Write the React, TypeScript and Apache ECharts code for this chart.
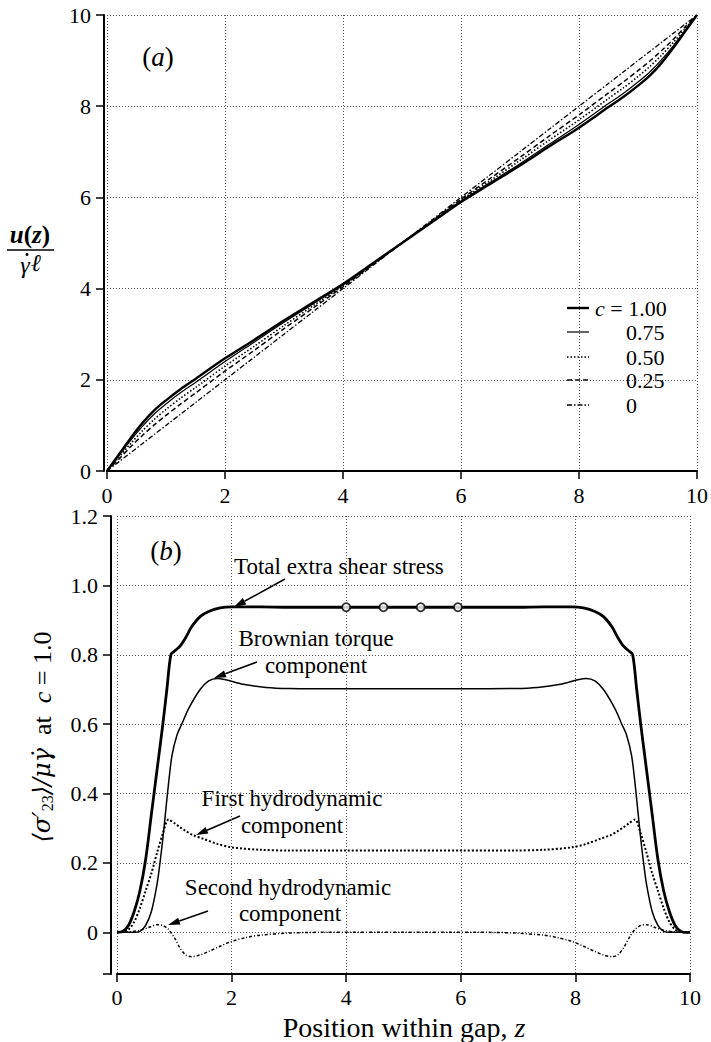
import React, { useEffect, useRef } from "react";
import * as echarts from "echarts";

// ---------- Panel (a): velocity profiles ----------
const zTop = [0, 0.2, 0.4, 0.6, 0.8, 1.0, 1.25, 1.5, 2, 2.5, 3, 3.5, 4, 4.5, 5, 5.5, 6, 6.5, 7, 7.5, 8, 8.5, 8.75, 9, 9.2, 9.4, 9.6, 9.8, 10];
const uC100 = [0, 0.36, 0.72, 1.05, 1.33, 1.55, 1.8, 2.02, 2.47, 2.88, 3.3, 3.7, 4.1, 4.55, 5.0, 5.45, 5.9, 6.3, 6.7, 7.12, 7.53, 7.98, 8.2, 8.45, 8.67, 8.95, 9.28, 9.64, 10];
const uC075 = [0, 0.33, 0.67, 0.98, 1.25, 1.47, 1.72, 1.94, 2.4, 2.83, 3.26, 3.67, 4.08, 4.54, 5.0, 5.46, 5.92, 6.33, 6.74, 7.17, 7.6, 8.06, 8.28, 8.53, 8.75, 9.02, 9.33, 9.67, 10];
const uC050 = [0, 0.3, 0.6, 0.88, 1.13, 1.35, 1.6, 1.83, 2.3, 2.74, 3.19, 3.63, 4.06, 4.53, 5, 5.47, 5.94, 6.37, 6.81, 7.26, 7.7, 8.17, 8.4, 8.65, 8.87, 9.12, 9.4, 9.7, 10];
const uC025 = [0, 0.26, 0.53, 0.78, 1.01, 1.22, 1.47, 1.71, 2.19, 2.65, 3.12, 3.58, 4.04, 4.52, 5, 5.48, 5.96, 6.42, 6.88, 7.35, 7.81, 8.29, 8.53, 8.78, 8.99, 9.22, 9.47, 9.74, 10];
const uC000 = [0, 0.2, 0.4, 0.6, 0.8, 1.0, 1.25, 1.5, 2, 2.5, 3, 3.5, 4, 4.5, 5, 5.5, 6, 6.5, 7, 7.5, 8, 8.5, 8.75, 9, 9.2, 9.4, 9.6, 9.8, 10];
const topTicks = ["0", "2", "4", "6", "8", "10"];

// ---------- Panel (b): stress components at c = 1.0 ----------
const zTotal = [0, 0.1, 0.2, 0.3, 0.4, 0.5, 0.6, 0.7, 0.8, 0.87, 0.94, 1.0, 1.1, 1.2, 1.3, 1.45, 1.6, 1.8, 2.0, 2.5, 3, 4, 5, 6, 7, 7.44, 7.94, 8.14, 8.34, 8.49, 8.64, 8.74, 8.84, 8.94, 9.0, 9.07, 9.14, 9.24, 9.34, 9.44, 9.54, 9.64, 9.74, 9.84, 9.94, 10];
const vTotal = [0, 0.003, 0.02, 0.06, 0.12, 0.21, 0.34, 0.47, 0.6, 0.7, 0.8, 0.81, 0.825, 0.85, 0.88, 0.91, 0.925, 0.935, 0.938, 0.938, 0.937, 0.937, 0.937, 0.937, 0.937, 0.938, 0.938, 0.935, 0.925, 0.91, 0.88, 0.85, 0.825, 0.81, 0.8, 0.7, 0.6, 0.47, 0.34, 0.21, 0.12, 0.06, 0.02, 0.003, 0, 0];

const zBrown = [0, 0.3, 0.4, 0.5, 0.6, 0.7, 0.75, 0.8, 0.85, 0.9, 0.96, 1.05, 1.13, 1.25, 1.45, 1.6, 1.75, 1.9, 2.2, 2.6, 3, 4, 5, 6, 6.94, 7.34, 7.74, 8.04, 8.19, 8.34, 8.49, 8.69, 8.81, 8.89, 8.98, 9.04, 9.09, 9.14, 9.19, 9.24, 9.34, 9.44, 9.54, 9.64, 10];
const vBrown = [0, 0, 0.003, 0.02, 0.06, 0.14, 0.2, 0.27, 0.35, 0.43, 0.51, 0.57, 0.6, 0.645, 0.7, 0.725, 0.732, 0.728, 0.715, 0.706, 0.703, 0.702, 0.702, 0.702, 0.703, 0.706, 0.715, 0.728, 0.732, 0.725, 0.7, 0.645, 0.6, 0.57, 0.51, 0.43, 0.35, 0.27, 0.2, 0.14, 0.06, 0.02, 0.003, 0, 0];

const zHydro1 = [0, 0.1, 0.2, 0.3, 0.4, 0.5, 0.6, 0.65, 0.7, 0.8, 0.9, 1.0, 1.1, 1.2, 1.33, 1.5, 1.75, 2.0, 2.5, 3, 4, 5, 6, 6.94, 7.44, 7.94, 8.19, 8.44, 8.61, 8.74, 8.84, 8.94, 9.04, 9.14, 9.24, 9.29, 9.34, 9.44, 9.54, 9.64, 9.74, 9.84, 9.94, 10];
const vHydro1 = [0, 0.001, 0.008, 0.03, 0.07, 0.12, 0.17, 0.2, 0.23, 0.285, 0.325, 0.315, 0.303, 0.292, 0.28, 0.27, 0.255, 0.245, 0.238, 0.236, 0.236, 0.236, 0.236, 0.236, 0.238, 0.245, 0.255, 0.27, 0.28, 0.292, 0.303, 0.315, 0.325, 0.285, 0.23, 0.2, 0.17, 0.12, 0.07, 0.03, 0.008, 0.001, 0, 0];

const zHydro2 = [0, 0.2, 0.4, 0.55, 0.7, 0.8, 0.9, 1.0, 1.1, 1.2, 1.3, 1.45, 1.6, 1.8, 2.0, 2.25, 2.5, 3, 3.5, 5, 6.44, 6.94, 7.44, 7.69, 7.94, 8.14, 8.34, 8.49, 8.64, 8.74, 8.84, 8.94, 9.04, 9.14, 9.24, 9.39, 9.54, 9.74, 9.94, 10];
const vHydro2 = [0, 0.001, 0.006, 0.014, 0.022, 0.02, 0.008, -0.015, -0.045, -0.065, -0.07, -0.065, -0.055, -0.04, -0.026, -0.015, -0.008, -0.002, 0, 0, 0, -0.002, -0.008, -0.015, -0.026, -0.04, -0.055, -0.065, -0.07, -0.065, -0.045, -0.015, 0.008, 0.02, 0.022, 0.014, 0.006, 0.001, 0, 0];

const zMarkers = [4.0, 4.65, 5.3, 5.95];
const vMarkers = [0.937, 0.937, 0.937, 0.937];

const legendLabels = ["1.00", "0.75", "0.50", "0.25", "0"];

const SERIF = "Liberation Serif";
const GREEK = "DejaVu Serif";
const NB = "\u00A0";

const pairs = (xs: number[], ys: number[]) => xs.map((x, i) => [x, ys[i]]);

function arrow(x1: number, y1: number, x2: number, y2: number) {
  const dx = x2 - x1;
  const dy = y2 - y1;
  const L = Math.hypot(dx, dy);
  const ux = dx / L;
  const uy = dy / L;
  const hl = 12;
  const hw = 3.6;
  const bx = x2 - ux * hl;
  const by = y2 - uy * hl;
  return [
    { type: "line", shape: { x1, y1, x2: bx, y2: by }, style: { stroke: "#000", lineWidth: 1.5 } },
    {
      type: "polygon",
      shape: { points: [[x2, y2], [bx - uy * hw, by + ux * hw], [bx + uy * hw, by - ux * hw]] },
      style: { fill: "#000" },
    },
  ];
}

function txt(text: string, x: number, y: number, size: number, align = "center", extra: any = {}) {
  return {
    type: "text",
    x,
    y,
    style: {
      text,
      fill: "#000",
      fontFamily: SERIF,
      fontSize: size,
      align,
      verticalAlign: "middle",
      ...extra,
    },
  };
}

export default function App() {
  const ref = useRef<HTMLDivElement>(null);

  useEffect(() => {
    document.body.style.margin = "0";
    const chart = echarts.init(ref.current!, undefined, { renderer: "svg" });

    const axisCommon = {
      axisLine: { show: true, onZero: false, lineStyle: { color: "#000", width: 2 } },
      axisTick: { show: true, inside: false, length: 8, lineStyle: { color: "#000", width: 1.5 } },
      axisLabel: { color: "#000", fontFamily: SERIF, fontSize: 22, margin: 13 },
      splitLine: { show: true, lineStyle: { color: "#555", type: [1, 2], width: 1 } },
    };

    const topStyles: any[] = [
      { name: "c = 1.00", data: uC100, width: 2.4, type: "solid" },
      { name: "c = 0.75", data: uC075, width: 1.2, type: "solid" },
      { name: "c = 0.50", data: uC050, width: 1.6, type: [1.5, 2] },
      { name: "c = 0.25", data: uC025, width: 1.5, type: [5, 3] },
      { name: "c = 0", data: uC000, width: 1.3, type: [5, 2, 1.5, 2] },
    ];

    const legendY = [308, 332, 357, 380, 405];
    const legendGraphics: any[] = [];
    topStyles.forEach((s, i) => {
      legendGraphics.push({
        type: "line",
        shape: { x1: 567, y1: legendY[i], x2: 589, y2: legendY[i] },
        style: {
          stroke: "#000",
          lineWidth: s.width,
          lineDash: s.type === "solid" ? null : s.type,
        },
      });
      if (i === 0) {
        legendGraphics.push({
          type: "text",
          x: 595,
          y: legendY[i],
          style: {
            text: "{i|c}" + NB + "=" + NB + legendLabels[i],
            fill: "#000",
            fontFamily: SERIF,
            fontSize: 22,
            align: "left",
            verticalAlign: "middle",
            rich: { i: { fontStyle: "italic", fontFamily: SERIF, fontSize: 22 } },
          },
        });
      } else {
        legendGraphics.push(txt(legendLabels[i], 626, legendY[i], 22, "left"));
      }
    });

    const option: any = {
      animation: false,
      backgroundColor: "#fff",
      textStyle: { fontFamily: SERIF },
      grid: [
        { left: 107, top: 15, width: 593, height: 456 },
        { left: 117, top: 516, width: 573, height: 458 },
      ],
      xAxis: [
        {
          type: "value",
          gridIndex: 0,
          min: 0,
          max: 10,
          interval: 2,
          ...axisCommon,
          axisLabel: { ...axisCommon.axisLabel, formatter: (v: number) => topTicks[Math.round(v / 2)] ?? "" },
        },
        {
          type: "value",
          gridIndex: 1,
          min: 0,
          max: 10,
          interval: 2,
          ...axisCommon,
          axisLabel: { ...axisCommon.axisLabel, margin: 12, formatter: (v: number) => topTicks[Math.round(v / 2)] ?? "" },
        },
      ],
      yAxis: [
        {
          type: "value",
          gridIndex: 0,
          min: 0,
          max: 10,
          interval: 2,
          offset: 3,
          ...axisCommon,
          axisLabel: { ...axisCommon.axisLabel, formatter: (v: number) => topTicks[Math.round(v / 2)] ?? "" },
        },
        {
          type: "value",
          gridIndex: 1,
          min: -0.12,
          max: 1.2,
          splitNumber: 6,
          offset: 6,
          ...axisCommon,
          axisLabel: {
            ...axisCommon.axisLabel,
            formatter: (v: number) => (v < -0.001 ? "" : Math.abs(v) < 1e-6 ? "0" : v.toFixed(1)),
          },
        },
      ],
      series: [
        ...topStyles.map((s) => ({
          type: "line",
          name: s.name,
          xAxisIndex: 0,
          yAxisIndex: 0,
          data: pairs(zTop, s.data),
          symbol: "none",
          smooth: 0.3,
          lineStyle: { color: "#000", width: s.width, type: s.type },
        })),
        {
          type: "line",
          name: "Total extra shear stress",
          xAxisIndex: 1,
          yAxisIndex: 1,
          data: pairs(zTotal, vTotal),
          symbol: "none",
          smooth: 0.3,
          lineStyle: { color: "#000", width: 2.8 },
        },
        {
          type: "line",
          name: "Brownian torque component",
          xAxisIndex: 1,
          yAxisIndex: 1,
          data: pairs(zBrown, vBrown),
          symbol: "none",
          smooth: 0.3,
          lineStyle: { color: "#000", width: 1.5 },
        },
        {
          type: "line",
          name: "First hydrodynamic component",
          xAxisIndex: 1,
          yAxisIndex: 1,
          data: pairs(zHydro1, vHydro1),
          symbol: "none",
          smooth: 0.3,
          lineStyle: { color: "#000", width: 2, type: [2, 2] },
        },
        {
          type: "line",
          name: "Second hydrodynamic component",
          xAxisIndex: 1,
          yAxisIndex: 1,
          data: pairs(zHydro2, vHydro2),
          symbol: "none",
          smooth: 0.3,
          lineStyle: { color: "#000", width: 1.5, type: [3, 2, 1, 2] },
        },
        {
          type: "scatter",
          name: "markers",
          xAxisIndex: 1,
          yAxisIndex: 1,
          data: pairs(zMarkers, vMarkers),
          symbol: "circle",
          symbolSize: 8,
          z: 5,
          itemStyle: { color: "#fff", borderColor: "#000", borderWidth: 1.8 },
        },
      ],
      graphic: [
        // panel labels
        {
          type: "text",
          x: 158,
          y: 57,
          style: {
            text: "({i|a})",
            fill: "#000",
            fontFamily: SERIF,
            fontSize: 27,
            align: "center",
            verticalAlign: "middle",
            rich: { i: { fontStyle: "italic", fontFamily: SERIF, fontSize: 27 } },
          },
        },
        {
          type: "text",
          x: 166,
          y: 551,
          style: {
            text: "({i|b})",
            fill: "#000",
            fontFamily: SERIF,
            fontSize: 27,
            align: "center",
            verticalAlign: "middle",
            rich: { i: { fontStyle: "italic", fontFamily: SERIF, fontSize: 27 } },
          },
        },
        // top y-axis fraction label
        {
          type: "text",
          x: 30,
          y: 234,
          style: {
            text: "{i|u}({i|z})",
            fill: "#000",
            fontFamily: SERIF,
            fontSize: 25,
            fontWeight: "bold",
            align: "center",
            verticalAlign: "middle",
            rich: { i: { fontStyle: "italic", fontWeight: "bold", fontFamily: SERIF, fontSize: 25 } },
          },
        },
        { type: "line", shape: { x1: 7, y1: 250, x2: 54, y2: 250 }, style: { stroke: "#000", lineWidth: 1.6 } },
        txt("\u03B3", 25, 265, 24, "center", { fontStyle: "italic" }),
        txt("\u2113", 36, 263, 24, "center", { fontStyle: "italic" }),
        { type: "circle", shape: { cx: 27, cy: 254.5, r: 1.5 }, style: { fill: "#000" } },
        // bottom y-axis label (rotated)
        {
          type: "text",
          x: 42,
          y: 737,
          rotation: Math.PI / 2,
          style: {
            text:
              "{g|\u27E8}{g|\u03C3\u2032}{s|23}{g|\u27E9/\u03BC\u03B3\u0307}{n|" +
              NB + NB + "at" + NB + NB + "}{c|c}{n|" + NB + "=" + NB + "1.0}",
            fill: "#000",
            fontFamily: SERIF,
            fontSize: 26,
            align: "center",
            verticalAlign: "middle",
            rich: {
              g: { fontStyle: "italic", fontFamily: GREEK, fontSize: 24 },
              s: { fontFamily: SERIF, fontSize: 16, verticalAlign: "bottom", padding: [10, 0, 0, 0] },
              n: { fontFamily: SERIF, fontSize: 26 },
              c: { fontStyle: "italic", fontFamily: SERIF, fontSize: 26 },
            },
          },
        },
        // x-axis title
        {
          type: "text",
          x: 404,
          y: 1027,
          style: {
            text: "Position within gap, {i|z}",
            fill: "#000",
            fontFamily: SERIF,
            fontSize: 28,
            align: "center",
            verticalAlign: "middle",
            rich: { i: { fontStyle: "italic", fontFamily: SERIF, fontSize: 28 } },
          },
        },
        // annotations
        txt("Total extra shear stress", 234, 566, 23, "left"),
        ...arrow(285, 579, 234, 607),
        txt("Brownian torque", 316, 638, 23),
        txt("component", 316, 665, 23),
        ...arrow(257, 662, 214, 678),
        txt("First hydrodynamic", 292, 798, 23),
        txt("component", 292, 825, 23),
        ...arrow(240, 816, 196, 835),
        txt("Second hydrodynamic", 288, 887, 23),
        txt("component", 290, 913, 23),
        ...arrow(208, 911, 168, 925),
        // legend
        ...legendGraphics,
      ],
    };

    chart.setOption(option);
    return () => chart.dispose();
  }, []);

  return (
    <div
      ref={ref}
      style={{ position: "absolute", left: 0, top: 0, width: 711, height: 1042, background: "#fff" }}
    />
  );
}
